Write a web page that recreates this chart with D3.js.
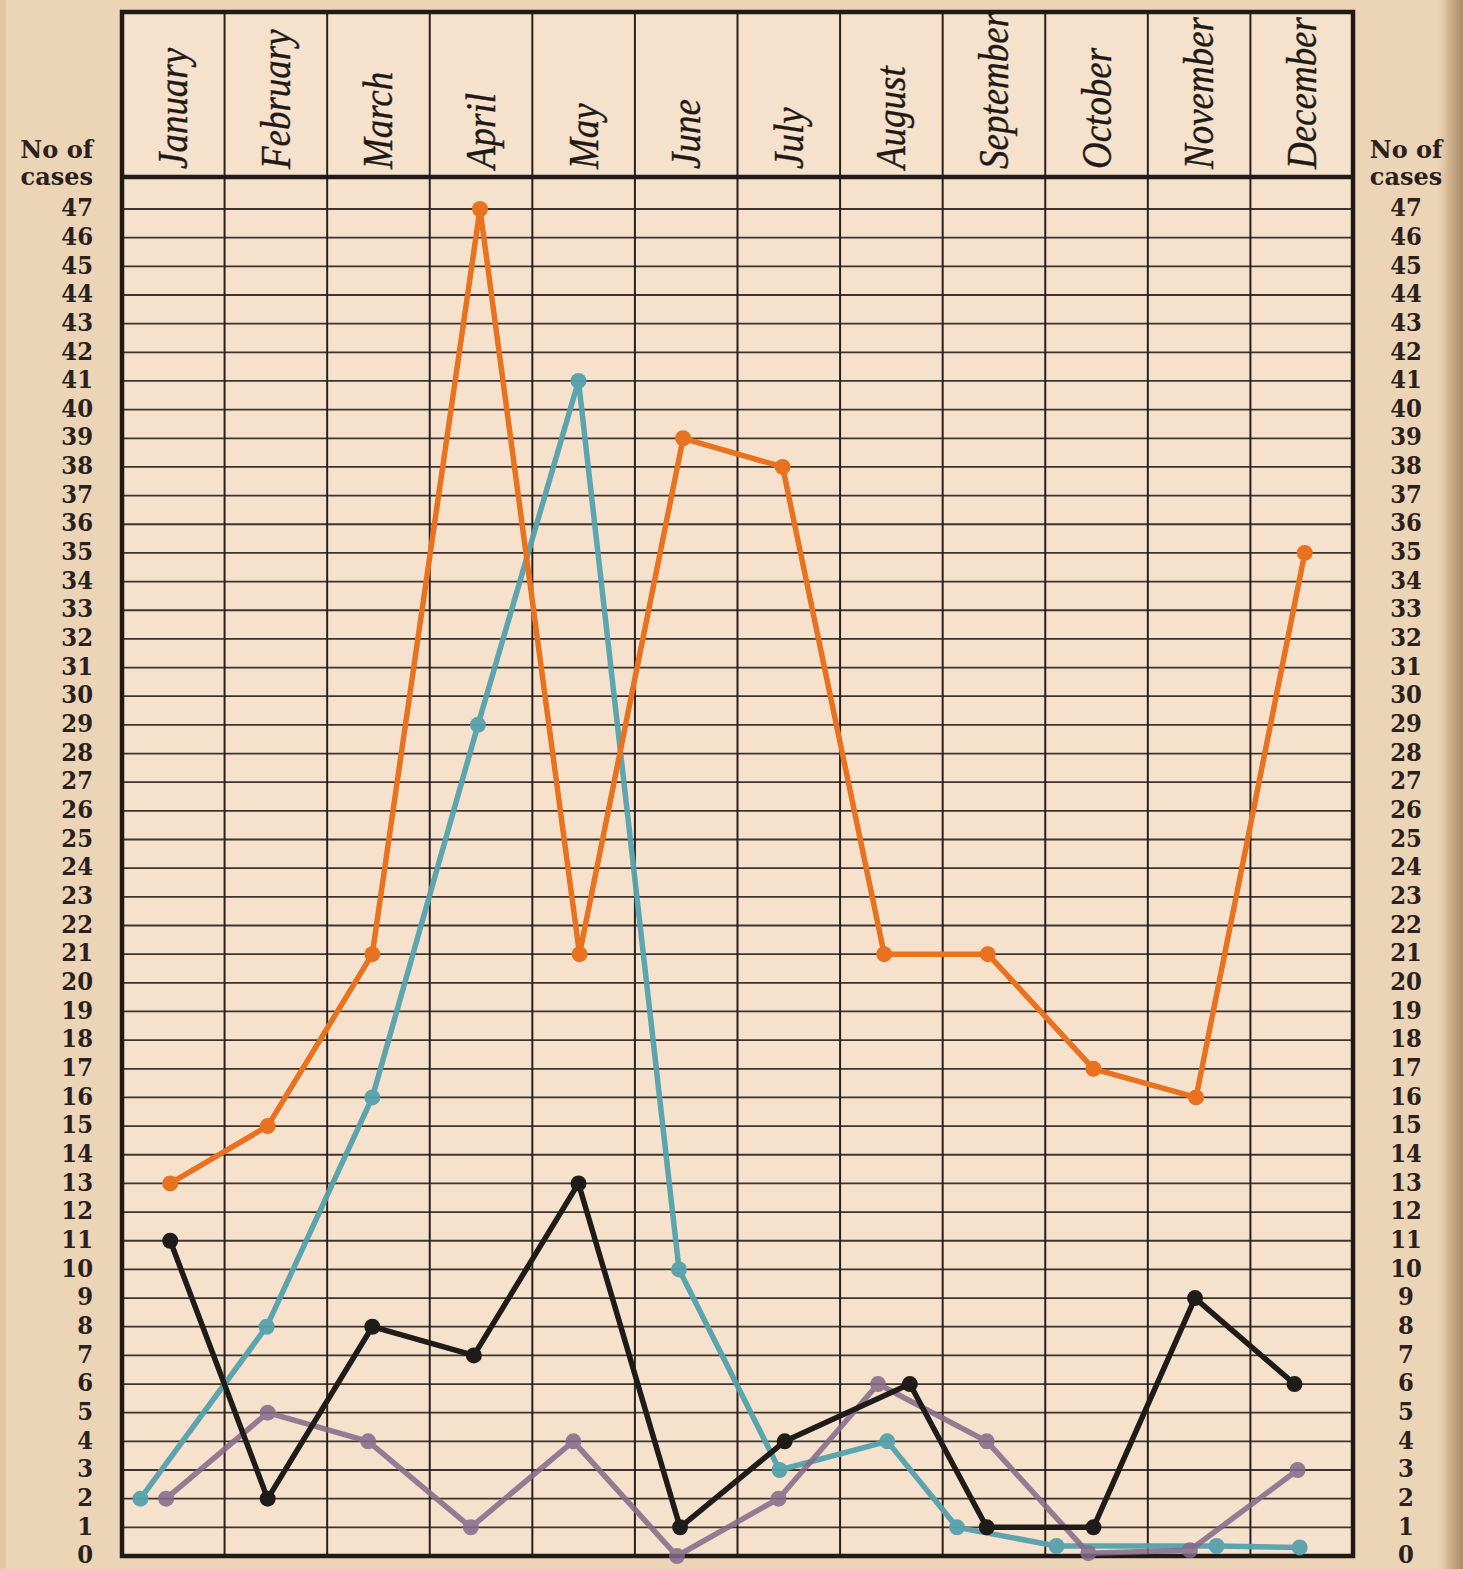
<!DOCTYPE html>
<html><head><meta charset="utf-8">
<script src="https://cdn.jsdelivr.net/npm/d3@7"></script>
<style>
html,body{margin:0;padding:0;background:#ecd4b7;}
svg{display:block;}
</style></head>
<body>
<svg id="chart" width="1463" height="1569"></svg>
<script>
// ---- data ----
const months = ["January","February","March","April","May","June","July","August","September","October","November","December"];
const yTicks = d3.range(0, 48);
const axisTitle = ["No of", "cases"];

// values
const orangeValues = [13, 15, 21, 47, 21, 39, 38, 21, 21, 17, 16, 35];
const blueValues   = [2, 8, 16, 29, 41, 10, 3, 4, 1, 0.35, 0.35, 0.3];
const purpleValues = [2, 5, 4, 1, 4, 0, 2, 6, 4, 0.1, 0.2, 3];
const blackValues  = [11, 2, 8, 7, 13, 1, 4, 6, 1, 1, 9, 6];

// horizontal placement of each point, in month units (0 = start of January)
const orangePos = [0.47, 1.42, 2.44, 3.49, 4.46, 5.47, 6.44, 7.43, 8.44, 9.47, 10.47, 11.53];
const bluePos   = [0.18, 1.41, 2.44, 3.47, 4.45, 5.43, 6.41, 7.46, 8.14, 9.11, 10.67, 11.48];
const purplePos = [0.43, 1.42, 2.40, 3.40, 4.40, 5.41, 6.40, 7.37, 8.43, 9.42, 10.41, 11.46];
const blackPos  = [0.47, 1.42, 2.44, 3.43, 4.45, 5.44, 6.46, 7.68, 8.43, 9.47, 10.46, 11.43];

const series = [
  {name:"blue",   values: blueValues,   pos: bluePos,   color:"#55a2ad", opacity:0.95},
  {name:"purple", values: purpleValues, pos: purplePos, color:"#85698a", opacity:0.85},
  {name:"orange", values: orangeValues, pos: orangePos, color:"#e8721f", opacity:1},
  {name:"black",  values: blackValues,  pos: blackPos,  color:"#1f1b19", opacity:1}
];

// ---- layout ----
const L = 122, R = 1353, T = 12, H = 177, B = 1556;
const svg = d3.select("#chart");
const ink = "#2b211c";

const x = d3.scaleBand().domain(months).range([L, R]);
const xu = d3.scaleLinear().domain([0, 12]).range([L, R]);
const y = d3.scaleLinear().domain([0, 47]).range([B, 209]);

// paper
const defs = svg.append("defs");
const g1 = defs.append("linearGradient").attr("id","edge").attr("x1","0").attr("x2","1");
g1.append("stop").attr("offset","0").attr("stop-color","#e6cba9").attr("stop-opacity",0);
g1.append("stop").attr("offset","0.5").attr("stop-color","#cdb08c");
g1.append("stop").attr("offset","1").attr("stop-color","#a88a66");
svg.append("rect").attr("width",1463).attr("height",1569).attr("fill","#ecd4b7");
svg.append("rect").attr("x",1436).attr("y",0).attr("width",27).attr("height",1569).attr("fill","url(#edge)");
svg.append("rect").attr("x",0).attr("y",0).attr("width",6).attr("height",1569).attr("fill","#dcc09c").attr("opacity",0.6);
svg.append("rect").attr("x",L).attr("y",T).attr("width",R-L).attr("height",B-T).attr("fill","#f6e2cc");

// horizontal grid
svg.append("g").selectAll("line").data(yTicks.filter(d => d > 0)).join("line")
  .attr("x1", L).attr("x2", R)
  .attr("y1", d => y(d)).attr("y2", d => y(d))
  .attr("stroke", ink).attr("stroke-width", 1.8).attr("opacity", 0.9);

// vertical month lines
svg.append("g").selectAll("line").data(months.slice(1)).join("line")
  .attr("x1", d => x(d)).attr("x2", d => x(d))
  .attr("y1", T).attr("y2", B)
  .attr("stroke", ink).attr("stroke-width", 2);

// header bottom line and frame
svg.append("line").attr("x1", L).attr("x2", R).attr("y1", H).attr("y2", H)
  .attr("stroke", "#221a16").attr("stroke-width", 4.5);
svg.append("rect").attr("x", L).attr("y", T).attr("width", R-L).attr("height", B-T)
  .attr("fill","none").attr("stroke","#221a16").attr("stroke-width",4.5);

// month labels
svg.append("g").selectAll("text").data(months).join("text")
  .attr("transform", d => `translate(${x(d) + x.bandwidth()/2 + 14},${H - 8}) rotate(-90) scale(0.86,1)`)
  .attr("font-family", "'Liberation Serif', 'DejaVu Serif', serif")
  .attr("font-style", "italic")
  .attr("font-size", 43)
  .attr("fill", "#1f1a17")
  .attr("stroke", "#1f1a17").attr("stroke-width", 0.4)
  .text(d => d);

// y axis labels
const labelFont = "'DejaVu Serif', 'Liberation Serif', serif";
function yLabels(xpos, anchor) {
  const g = svg.append("g");
  g.selectAll("text.tick").data(yTicks).join("text")
    .attr("class","tick")
    .attr("transform", d => `translate(${xpos},${y(d)}) scale(0.95,1.0)`)
    .attr("dy", "0.3em")
    .attr("text-anchor", anchor)
    .attr("font-family", labelFont).attr("font-weight", "bold")
    .attr("font-size", 24).attr("fill", "#2a211c")
    .text(d => d);
  g.selectAll("text.title").data(axisTitle).join("text")
    .attr("class","title")
    .attr("transform", (d,i) => `translate(${xpos},${158 + i*27})`)
    .attr("text-anchor", anchor)
    .attr("font-family", labelFont).attr("font-weight", "bold")
    .attr("font-size", 24).attr("fill", "#2a211c")
    .text(d => d);
}
yLabels(93, "end");
yLabels(1406, "middle");

// series
const line = d3.line().x(d => xu(d.p)).y(d => y(d.v));
series.forEach(s => {
  const pts = s.values.map((v, i) => ({v, p: s.pos[i]}));
  const g = svg.append("g").attr("opacity", s.opacity);
  g.append("path").datum(pts).attr("d", line)
    .attr("fill", "none").attr("stroke", s.color)
    .attr("stroke-width", 5.5).attr("stroke-linejoin", "round").attr("stroke-linecap","round");
  g.selectAll("circle").data(pts).join("circle")
    .attr("cx", d => xu(d.p)).attr("cy", d => y(d.v)).attr("r", 8)
    .attr("fill", s.color);
});
</script>
</body></html>
